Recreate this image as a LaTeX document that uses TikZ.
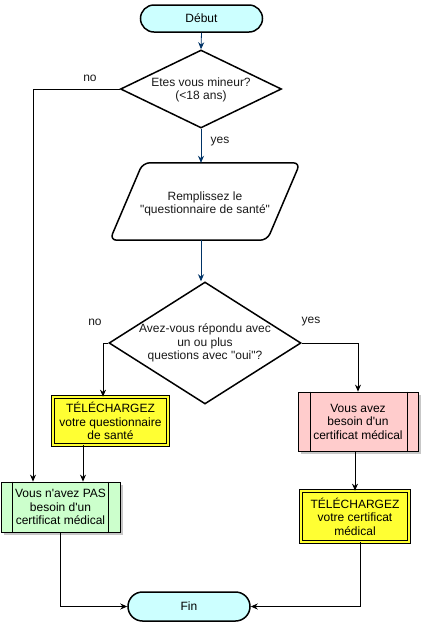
\documentclass[tikz,border=0pt]{standalone}
\usepackage{fontspec}
\setmainfont{Liberation Sans}[Ligatures=TeXOff]
\usetikzlibrary{shapes.geometric,shapes.misc,arrows.meta,shadows}
\definecolor{cyanfill}{HTML}{CCFFFF}
\definecolor{yellowfill}{HTML}{FFFF33}
\definecolor{pinkfill}{HTML}{FFCCCC}
\definecolor{greenfill}{HTML}{CCFFCC}
\definecolor{flowblue}{HTML}{003366}
\definecolor{txt}{HTML}{1A1A1A}
\tikzset{
  term/.style={rounded rectangle, draw=black, line width=1.5pt, fill=cyanfill, minimum width=122pt, minimum height=27pt, inner sep=0pt},
  dia/.style={diamond, draw=black, line width=1.5pt, fill=white, inner sep=0pt},
  dbox/.style={rectangle, draw=black, line width=0.7pt, double=yellowfill, double distance=2pt, fill=yellowfill, align=center, inner sep=0pt},
  procbox/.style={rectangle, draw=black, line width=0.8pt, align=center, inner sep=0pt,
     drop shadow={shadow xshift=3pt, shadow yshift=-3pt, fill=black, opacity=0.22}},
  bluearr/.style={draw=flowblue, line width=0.8pt, -{Stealth[length=7pt,width=6pt]}},
  blackarr/.style={draw=black, line width=0.8pt, -{Stealth[length=7pt,width=6pt]}},
  lbl/.style={inner sep=0pt, text=txt},
  txtnode/.style={align=center, inner sep=0pt, text=txt}
}
\begin{document}
\begin{tikzpicture}[x=1pt,y=-1pt,font=\fontsize{12}{13.5}\selectfont]
\useasboundingbox (0,0) rectangle (421,622);
% shapes
\node[term] (start) at (201.5,18.5) {Début};
\node[dia, minimum width=161pt, minimum height=78pt] (d1) at (201,89) {};
\node[txtnode] (d1t) at (201,90) {Etes vous mineur?\\(<18 ans)};
\node[minimum width=190pt, minimum height=77pt, inner sep=0pt] (p) at (205,201.5) {};
\draw[line width=1.5pt, rounded corners=7pt, fill=white] ([xshift=33pt]p.north west) -- (p.north east) -- ([xshift=-33pt]p.south east) -- (p.south west) -- cycle;
\node[txtnode] (pt) at (205,204) {Remplissez le\\"questionnaire de santé"};
\node[dia, minimum width=192pt, minimum height=122pt] (d2) at (205,343) {};
\node[txtnode] (d2t) at (205,343) {Avez-vous répondu avec\\un ou plus\\questions avec "oui"?};
\node[dbox, minimum width=115pt, minimum height=48pt] (y1) at (110.5,421) {TÉLÉCHARGEZ\\votre questionnaire\\de santé};
\node[procbox, fill=pinkfill, minimum width=120pt, minimum height=59pt] (pk) at (358,421.5) {Vous avez\\besoin d'un\\certificat médical};
\draw[line width=0.8pt] ([xshift=13pt]pk.north west) -- ([xshift=13pt]pk.south west);
\draw[line width=0.8pt] ([xshift=-11pt]pk.north east) -- ([xshift=-11pt]pk.south east);
\node[procbox, fill=greenfill, minimum width=119pt, minimum height=50pt] (g) at (60.5,507) {Vous n'avez PAS\\besoin d'un\\certificat médical};
\draw[line width=0.8pt] ([xshift=12pt]g.north west) -- ([xshift=12pt]g.south west);
\draw[line width=0.8pt] ([xshift=-12pt]g.north east) -- ([xshift=-12pt]g.south east);
\node[dbox, minimum width=108pt, minimum height=51pt] (y2) at (355,516.5) {TÉLÉCHARGEZ\\votre certificat\\médical};
\node[term, minimum height=29pt] (fin) at (189,606.5) {Fin};
% labels
\node[lbl] (no1) at (90,78) {no};
\node[lbl] (yes1) at (220,142) {yes};
\node[lbl] (no2) at (95,322) {no};
\node[lbl] (yes2) at (311,322) {yes};
% connectors
\draw[bluearr] (start.south) -- (d1.north);
\draw[bluearr] (d1.south) -- (d1.south |- p.north);
\draw[bluearr] (d1.south |- p.south) -- (d1.south |- d2.north);
\draw[blackarr] (d1.west) -| ([xshift=-27.5pt]g.north);
\draw[blackarr] (d2.west) -| ([xshift=-7.5pt]y1.north);
\draw[blackarr] (d2.east) -| (pk.north);
\draw[blackarr] ([xshift=-27.5pt]y1.south) -- ([xshift=-27.5pt]y1.south |- g.north);
\draw[blackarr] (y2.north |- pk.south) -- (y2.north);
\draw[blackarr] (g.south) |- (fin.west);
\draw[blackarr] ([xshift=5pt]y2.south) |- (fin.east);
\end{tikzpicture}
\end{document}
